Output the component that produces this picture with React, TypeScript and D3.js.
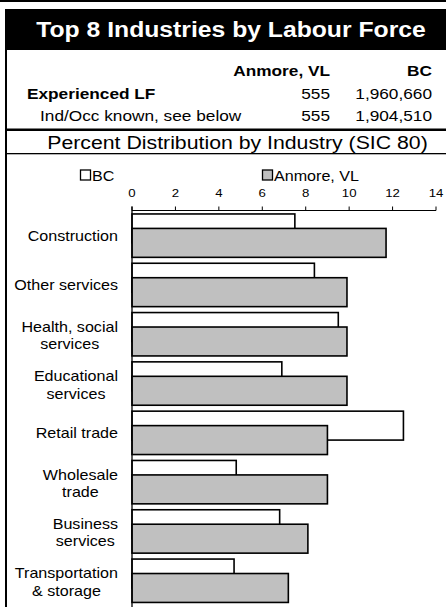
import React from "react";
import * as d3 from "d3";

const categories = [
  "Construction",
  "Other services",
  "Health, social|services",
  "Educational|services",
  "Retail trade",
  "Wholesale|trade",
  "Business|services",
  "Transportation|& storage",
];
const bcValues = [7.5, 8.4, 9.5, 6.9, 12.5, 4.8, 6.8, 4.7];
const anmoreValues = [11.7, 9.9, 9.9, 9.9, 9.0, 9.0, 8.1, 7.2];
const tickValues = [0, 2, 4, 6, 8, 10, 12, 14];
const seriesNames = ["BC", "Anmore, VL"];
const infoHeader = ["Anmore, VL", "BC"];
const infoRows = [
  { label: "Experienced LF", a: "555", b: "1,960,660", bold: true },
  { label: "Ind/Occ known, see below", a: "555", b: "1,904,510", bold: false },
];

const W = 446;
const H = 607;
const SX = 1.15;
const FONT = "'Liberation Sans', Arial, Helvetica, sans-serif";

let ctx: CanvasRenderingContext2D | null = null;
function measure(t: string, size: number, weight = "normal") {
  if (!ctx) ctx = document.createElement("canvas").getContext("2d");
  if (!ctx) return t.length * size * 0.5;
  ctx.font = `${weight} ${size}px ${FONT}`;
  return ctx.measureText(t).width;
}

function T({ x, y, size, anchor = "start", weight = "normal", fill = "#000", children }: any) {
  return (
    <text
      transform={`translate(${x},${y}) scale(${SX},1)`}
      fontSize={size}
      fontFamily={FONT}
      fontWeight={weight}
      textAnchor={anchor}
      fill={fill}
    >
      {children}
    </text>
  );
}

export default function App() {
  const x = d3.scaleLinear().domain([0, 14]).range([132, 436]);
  const y = d3
    .scaleBand<string>()
    .domain(categories)
    .range([211, 605.4])
    .paddingInner(0.12)
    .paddingOuter(0.06);
  const bw = y.bandwidth();
  const barH = (bw * 2) / 3;
  const axisY = 210.5;
  const catSize = 14;

  return (
    <svg
      width={W}
      height={H}
      style={{ position: "absolute", left: 0, top: 0, background: "#fff" }}
    >
      <rect x={0} y={0} width={W} height={H} fill="#fff" />
      {/* top rule */}
      <rect x={0} y={0} width={W} height={2} fill="#000" />
      {/* title band */}
      <rect x={5} y={9} width={W - 5} height={41} fill="#000" />
      <T x={231} y={36.5} size={21.5} anchor="middle" weight="bold" fill="#fff">
        Top 8 Industries by Labour Force
      </T>
      {/* left border */}
      <rect x={5} y={9} width={2} height={H - 9} fill="#000" />

      {/* info table */}
      <T x={330} y={76} size={15} anchor="end" weight="bold">{infoHeader[0]}</T>
      <T x={432} y={76} size={15} anchor="end" weight="bold">{infoHeader[1]}</T>
      {infoRows.map((r, i) => (
        <g key={r.label}>
          <T x={r.bold ? 27 : 40} y={98.5 + i * 22.5} size={15} weight={r.bold ? "bold" : "normal"}>
            {r.label}
          </T>
          <T x={330} y={98.5 + i * 22.5} size={15} anchor="end">{r.a}</T>
          <T x={432} y={98.5 + i * 22.5} size={15} anchor="end">{r.b}</T>
        </g>
      ))}
      <rect x={5} y={128.5} width={W - 5} height={2.5} fill="#000" />
      <T x={237.5} y={148.5} size={18.5} anchor="middle">
        Percent Distribution by Industry (SIC 80)
      </T>
      <rect x={5} y={153} width={W - 5} height={1.3} fill="#000" />

      {/* legend */}
      <rect x={80.5} y={170} width={10} height={10} fill="#fff" stroke="#000" strokeWidth={1.3} />
      <T x={92} y={180.5} size={14}>{seriesNames[0]}</T>
      <rect x={262.5} y={170} width={10} height={10} fill="#c0c0c0" stroke="#000" strokeWidth={1.3} />
      <T x={274} y={180.5} size={14}>{seriesNames[1]}</T>

      {/* axis */}
      {tickValues.map((t) => (
        <g key={t}>
          <line x1={x(t)} x2={x(t)} y1={axisY - 4} y2={axisY} stroke="#000" strokeWidth={1} />
          <T x={x(t)} y={197} size={11.5} anchor="middle">{String(t)}</T>
        </g>
      ))}
      <line x1={x(0)} x2={x(14)} y1={axisY} y2={axisY} stroke="#000" strokeWidth={1} />

      {/* bars */}
      {categories.map((c, i) => {
        const y0 = y(c) as number;
        return (
          <g key={c}>
            <rect
              x={x(0)}
              y={y0}
              width={x(bcValues[i]) - x(0)}
              height={barH}
              fill="#fff"
              stroke="#000"
              strokeWidth={1.6}
            />
            <rect
              x={x(0)}
              y={y0 + bw / 3}
              width={x(anmoreValues[i]) - x(0)}
              height={barH}
              fill="#c0c0c0"
              stroke="#000"
              strokeWidth={1.6}
            />
          </g>
        );
      })}
      <line x1={x(0)} x2={x(0)} y1={axisY - 4} y2={H} stroke="#000" strokeWidth={1.3} />

      {/* category labels */}
      {categories.map((c) => {
        const lines = c.split("|");
        const cy = (y(c) as number) + bw / 2;
        const right = 118;
        if (lines.length === 1) {
          return (
            <T key={c} x={right} y={cy + 5.5} size={catSize} anchor="end">{lines[0]}</T>
          );
        }
        const maxW = Math.max(...lines.map((l) => measure(l, catSize))) * SX;
        const cx = right - maxW / 2;
        return (
          <g key={c}>
            {lines.map((l, k) => (
              <T key={k} x={cx} y={cy - 2.5 + k * 17.5} size={catSize} anchor="middle">{l}</T>
            ))}
          </g>
        );
      })}
    </svg>
  );
}
